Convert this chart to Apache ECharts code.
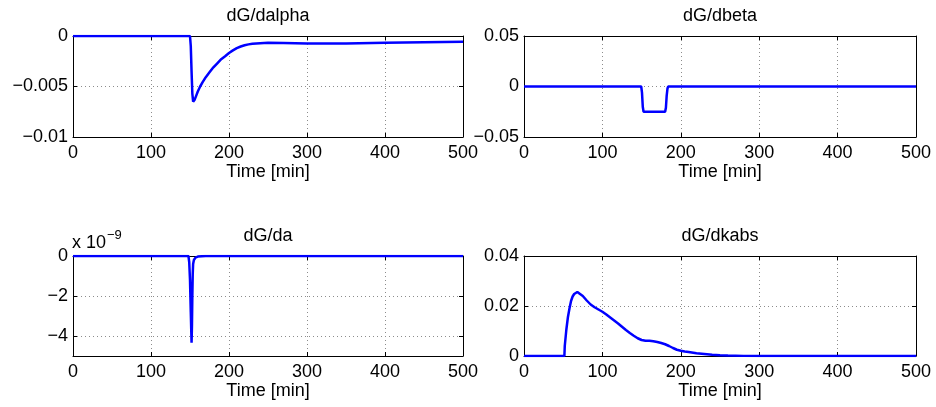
<!DOCTYPE html>
<html>
<head>
<meta charset="utf-8">
<script src="https://cdn.jsdelivr.net/npm/echarts@6/dist/echarts.min.js"></script>
<style>
  html, body { margin: 0; padding: 0; background: #fff; }
  #chart { width: 936px; height: 407px; }
</style>
</head>
<body>
<div id="chart"></div>
<script>
// Sensitivities of glucose G with respect to the model parameters, over time [min]

// dG/dalpha
const alphaTime = [0, 150, 151, 152, 153, 154, 155, 156, 158, 160, 163, 166, 170, 175, 180, 185, 190, 195, 200, 205, 210, 215, 220, 225, 230, 240, 250, 270, 300, 350, 400, 450, 500];
const alphaValues = [0, 0, -0.0010, -0.0035, -0.0057, -0.0065, -0.00645, -0.0063, -0.0059, -0.0055, -0.0050, -0.0046, -0.0041, -0.0036, -0.0031, -0.0027, -0.0023, -0.0020, -0.00168, -0.00142, -0.0012, -0.00104, -0.00092, -0.00083, -0.00077, -0.00071, -0.00068, -0.00069, -0.00074, -0.00074, -0.00068, -0.00062, -0.00057];

// dG/dbeta
const betaTime = [0, 149.5, 150.5, 151.5, 152.5, 180, 181, 182, 183, 184, 500];
const betaValues = [0, 0, -0.006, -0.020, -0.025, -0.025, -0.021, -0.009, -0.002, 0, 0];

// dG/da, in units of 1e-9
const daTime = [0, 148, 149, 150, 151, 152, 152.5, 153, 153.5, 154, 155, 157, 160, 165, 170, 500];
const daValues = [0, 0, -0.3, -1.2, -2.8, -4.33, -3.5, -2.0, -0.9, -0.4, -0.2, -0.08, -0.03, -0.01, 0, 0];

// dG/dkabs
const kabsTime = [0, 51.5, 52, 54, 56, 58, 60, 62, 64, 66, 68, 70, 75, 80, 85, 90, 95, 100, 105, 110, 115, 120, 125, 130, 135, 140, 145, 150, 155, 160, 165, 170, 175, 180, 185, 190, 195, 200, 205, 210, 220, 230, 240, 250, 260, 280, 300, 500];
const kabsValues = [0, 0, 0.004, 0.0105, 0.0155, 0.019, 0.022, 0.0238, 0.0248, 0.0253, 0.0256, 0.0254, 0.0240, 0.0222, 0.0206, 0.0195, 0.0186, 0.0177, 0.0166, 0.0154, 0.0142, 0.0130, 0.0117, 0.0104, 0.0092, 0.0081, 0.0071, 0.0064, 0.0061, 0.0061, 0.0059, 0.0056, 0.0052, 0.0047, 0.0040, 0.0032, 0.0025, 0.0021, 0.0018, 0.0016, 0.0011, 0.0008, 0.0005, 0.0003, 0.0002, 0.00005, 0, 0];

// Tick values
const timeTicks = [0, 100, 200, 300, 400, 500];
const alphaTicks = [-0.01, -0.005, 0];
const betaTicks = [-0.05, 0, 0.05];
const daTicks = [-4, -2, 0];
const kabsTicks = [0, 0.02, 0.04];

const titles = ['dG/dalpha', 'dG/dbeta', 'dG/da', 'dG/dkabs'];
const xLabel = 'Time [min]';

const FONT = '"Liberation Sans", Arial, Helvetica, sans-serif';
const FS = 18;

function fmt(v) {
  return String(v).replace('-', '\u2212');
}
function pairs(xs, ys) {
  return xs.map((x, i) => [x, ys[i]]);
}

const grids = [
  { left: 73, top: 36, width: 390, height: 101 },
  { left: 524, top: 36, width: 392, height: 101 },
  { left: 73, top: 256, width: 390, height: 100 },
  { left: 524, top: 256, width: 392, height: 100 }
];

const yRanges = [
  { min: -0.01, max: 0, ticks: alphaTicks },
  { min: -0.05, max: 0.05, ticks: betaTicks },
  { min: -5, max: 0, ticks: daTicks },
  { min: 0, max: 0.04, ticks: kabsTicks }
];

const seriesData = [
  pairs(alphaTime, alphaValues),
  pairs(betaTime, betaValues),
  pairs(daTime, daValues),
  pairs(kabsTime, kabsValues)
];

const gridLine = { show: true, lineStyle: { color: '#8c8c8c', width: 1, type: [1, 3] } };
const boxLine = { show: true, onZero: false, lineStyle: { color: '#000', width: 1 } };
const inTick = { show: true, inside: true, length: 4, lineStyle: { color: '#000' } };

const xAxes = [];
const yAxes = [];
const series = [];

grids.forEach((g, i) => {
  const r = yRanges[i];
  // bottom axis with labels and grid
  xAxes.push({
    type: 'value', gridIndex: i, position: 'bottom', min: 0, max: 500,
    axisLine: boxLine,
    axisTick: Object.assign({}, inTick, { customValues: timeTicks }),
    axisLabel: { color: '#000', fontFamily: FONT, fontSize: FS, margin: 7, formatter: fmt, customValues: timeTicks },
    splitLine: Object.assign({}, gridLine, { customValues: timeTicks }),
    name: xLabel, nameLocation: 'middle', nameGap: 26,
    nameTextStyle: { color: '#000', fontFamily: FONT, fontSize: FS }
  });
  // top edge of the box
  xAxes.push({
    type: 'value', gridIndex: i, position: 'top', min: 0, max: 500,
    axisLine: boxLine,
    axisTick: Object.assign({}, inTick, { customValues: timeTicks }),
    axisLabel: { show: false }, splitLine: { show: false }
  });
  // left axis with labels and grid
  yAxes.push({
    type: 'value', gridIndex: i, position: 'left', min: r.min, max: r.max,
    axisLine: boxLine,
    axisTick: Object.assign({}, inTick, { customValues: r.ticks }),
    axisLabel: { color: '#000', fontFamily: FONT, fontSize: FS, margin: 5, formatter: fmt, customValues: r.ticks },
    splitLine: Object.assign({}, gridLine, { customValues: r.ticks })
  });
  // right edge of the box
  yAxes.push({
    type: 'value', gridIndex: i, position: 'right', min: r.min, max: r.max,
    axisLine: boxLine,
    axisTick: Object.assign({}, inTick, { customValues: r.ticks }),
    axisLabel: { show: false }, splitLine: { show: false }
  });
  series.push({
    type: 'line', xAxisIndex: 2 * i, yAxisIndex: 2 * i,
    data: seriesData[i], showSymbol: false, symbol: 'none', smooth: false,
    lineStyle: { color: '#0000ff', width: 2.5 }, itemStyle: { color: '#0000ff' },
    animation: false, z: 5
  });
});

const titleCenters = [
  [grids[0].left + grids[0].width / 2, 16],
  [grids[1].left + grids[1].width / 2, 16],
  [grids[2].left + grids[2].width / 2, 236],
  [grids[3].left + grids[3].width / 2, 236]
];

const graphics = titles.map((t, i) => ({
  type: 'text', x: titleCenters[i][0], y: titleCenters[i][1],
  style: { text: t, fill: '#000', font: FS + 'px ' + FONT, textAlign: 'center', textVerticalAlign: 'middle' }
}));
// scale factor for the dG/da axis
graphics.push({
  type: 'text', x: 72, y: 243,
  style: { text: 'x 10', fill: '#000', font: FS + 'px ' + FONT, textAlign: 'left', textVerticalAlign: 'middle' }
});
graphics.push({
  type: 'text', x: 107, y: 235,
  style: { text: '\u22129', fill: '#000', font: '13px ' + FONT, textAlign: 'left', textVerticalAlign: 'middle' }
});

const chart = echarts.init(document.getElementById('chart'), null, { renderer: 'canvas' });
chart.setOption({
  animation: false,
  backgroundColor: '#fff',
  grid: grids,
  xAxis: xAxes,
  yAxis: yAxes,
  series: series,
  graphic: graphics
});
</script>
</body>
</html>
